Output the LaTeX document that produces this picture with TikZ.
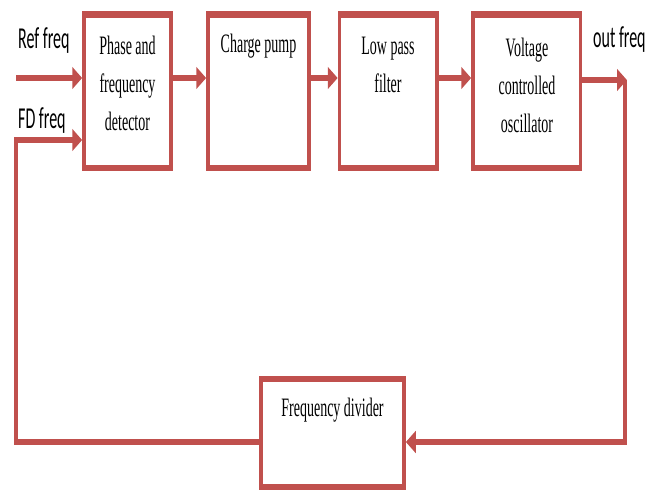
\documentclass[tikz,border=0pt]{standalone}
\usepackage{fontspec}
\setmainfont{Liberation Serif}
\newfontfamily\lblfont{Carlito}
\usetikzlibrary{arrows.meta}
\definecolor{pllred}{RGB}{192,80,77}
\tikzset{
  blk/.style={draw=pllred, line width=3.5pt, fill=white, rectangle, inner sep=0pt, minimum height=80.8pt},
  blktext/.style={anchor=base, align=center, inner sep=0pt, font=\fontsize{14}{20}\selectfont},
  lbl/.style={anchor=base west, inner sep=0pt, font=\lblfont\fontsize{16}{18}\selectfont},
  wire/.style={draw=pllred, line width=3.5pt},
  arr/.style={wire, -{Triangle[length=10pt,width=11pt]}}
}
\begin{document}
\begin{tikzpicture}
\useasboundingbox (0pt,0pt) rectangle (656pt,-490pt);
\begin{scope}[transform canvas={yscale=1.9}, x={(1pt,0pt)}, y={(0pt,-0.526316pt)}]
  % blocks
  \node[blk, minimum width=87pt]   (pfd) at (127.5,91.25) {};
  \node[blk, minimum width=101pt]  (cp)  at (258.5,91.25) {};
  \node[blk, minimum width=97.5pt] (lpf) at (388.25,91.25) {};
  \node[blk, minimum width=107.5pt](vco) at (526.75,91.25) {};
  \node[blk, minimum width=143pt, minimum height=56.8pt] (fdv) at (332.5,433) {};
  % block texts (anchor = baseline of last line)
  \node[blktext] (pfdt) at (127.5,130) {Phase and\\frequency\\detector};
  \node[blktext] (cpt)  at (258.5,52.7) {Charge pump};
  \node[blktext] (lpft) at (388,92) {Low pass\\filter};
  \node[blktext] (vcot) at (527,132) {Voltage\\controlled\\oscillator};
  \node[blktext] (fdvt) at (332.5,416.5) {Frequency divider};
  % labels
  \node[lbl] (reflbl) at (18,48) {Ref freq};
  \node[lbl] (fdlbl)  at (18,128) {FD freq};
  \node[lbl] (outlbl) at (593,47) {out freq};
  % coordinates
  \coordinate (refin) at (16,78);
  \coordinate (fdin) at (16,140);
  \coordinate (outtip) at (627,80);
  \coordinate (outcorner) at (625,80);
  \coordinate (fbrow) at (0,442);
  % connectors
  \draw[arr] (refin) -- (pfd.west |- refin);
  \draw[arr] (pfd.east |- refin) -- (cp.west |- refin);
  \draw[arr] (cp.east |- refin) -- (lpf.west |- refin);
  \draw[arr] (lpf.east |- refin) -- (vco.west |- refin);
  \draw[arr] (vco.east |- outtip) -- (outtip);
  \draw[arr] (outcorner) -- (outcorner |- fbrow) -- (fdv.east |- fbrow);
  \draw[arr] (fdv.west |- fbrow) -| (fdin) -- (pfd.west |- fdin);
\end{scope}
\end{tikzpicture}
\end{document}
